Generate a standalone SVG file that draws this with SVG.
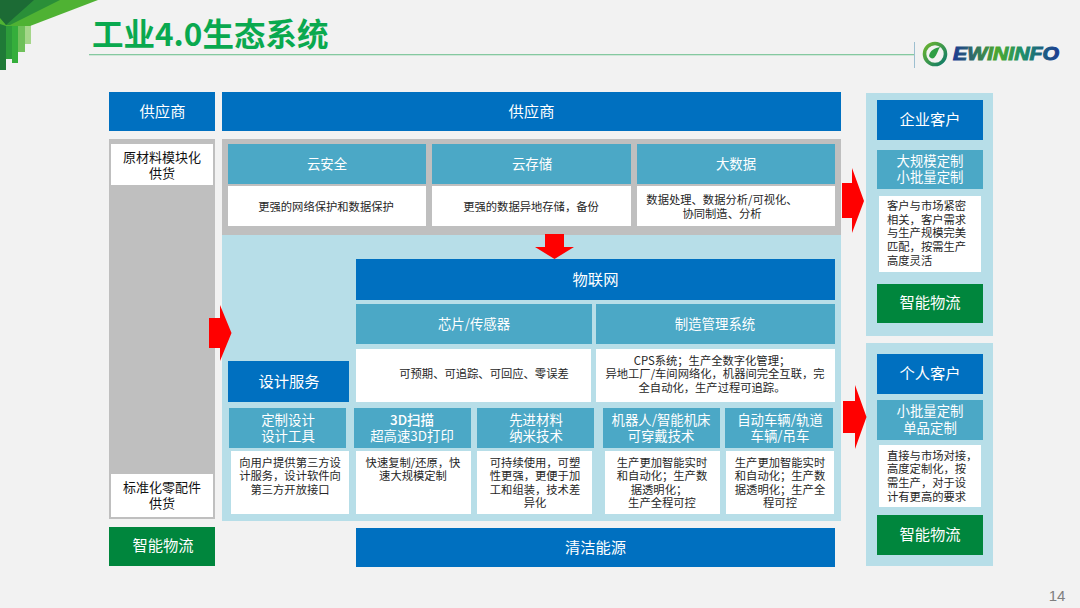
<svg xmlns="http://www.w3.org/2000/svg" width="1080" height="608" viewBox="0 0 1080 608">
<style>
text{font-family:"Noto Sans CJK SC","Noto Sans",sans-serif;text-anchor:middle}
.b{fill:#0070c0}.t{fill:#4ba8c6}.w{fill:#fff}.g{fill:#00863d}.gr{fill:#bfbfbf}.lb{fill:#b7dee8}.r{fill:#f00}
.h{fill:#fff;font-size:15.3px}.h2{fill:#fff;font-size:13.4px}.c{fill:#262626;font-size:11.3px}.d{fill:#111;font-size:13px}
</style>
<defs>
<linearGradient id="lg" x1="0" x2="1" y1="0" y2="0"><stop offset="0" stop-color="#1b3a93"/><stop offset=".42" stop-color="#4aa82f"/><stop offset=".65" stop-color="#1f8f6a"/><stop offset="1" stop-color="#1b3a93"/></linearGradient>
<linearGradient id="rg" x1="0" x2="1" y1="0" y2="1"><stop offset="0" stop-color="#6db52e"/><stop offset="1" stop-color="#0d7a6a"/></linearGradient>
</defs>
<rect width="1080" height="608" fill="#f2f2f2"/>
<g id="corner">
<polygon points="25,24 31,24 31,44 25,44" fill="#a5d68a"/>
<polygon points="18,24 25,24 25,52 18,52" fill="#6fc05a"/>
<polygon points="12,24 18,24 18,63 12,63" fill="#35ae3b"/>
<polygon points="6,24 12,24 12,59 6,59" fill="#2c9c3a"/>
<polygon points="0,20 6,24 6,70 0,70" fill="#1f7a37"/>
<polygon points="0,0 98,0 30,26 6,26 0,24" fill="#4fb233"/>
<polygon points="0,0 60,0 10,25 6,25" fill="#2a8f38"/>
<polygon points="0,0 34,0 6,25 0,18" fill="#1c6b35"/>
</g>
<g id="title">
<text x="92" y="46" style="text-anchor:start;font-size:31.5px;font-weight:700;fill:#0aa94f">工业4.0生态系统</text>
<rect x="89" y="54" width="826" height="1.3" fill="#85c9a0"/>
<rect x="914" y="42" width="1" height="26" fill="#9dbfd0"/>
</g>
<g id="logo">
<circle cx="935" cy="54" r="10.500" fill="none" stroke="url(#rg)" stroke-width="3.6"/>
<path d="M929 56c1-6 6-8 11-9-2 3-3 8-6 11-2 1-4 0-5-2z" fill="#2f9e44"/>
<text x="953" y="60" textLength="106" lengthAdjust="spacingAndGlyphs" style="text-anchor:start;font-family:'Liberation Sans',sans-serif;font-size:18.5px;font-weight:700;font-style:italic;fill:url(#lg);stroke:url(#lg);stroke-width:1">EWININFO</text>
</g>
<g id="panels">
<rect class="gr" x="109" y="139" width="106" height="380"/>
<rect class="gr" x="222" y="139" width="619" height="96"/>
<rect class="lb" x="222" y="235" width="619" height="286"/>
<rect class="lb" x="866" y="93" width="127" height="243"/>
<rect class="lb" x="866" y="343" width="127" height="223"/>
</g>
<g id="supplier-left"><rect class="b" x="109" y="92" width="106" height="39"/><text class="h" x="162.500" y="117">供应商</text></g>
<g id="supplier-top"><rect class="b" x="222" y="92" width="619" height="39"/><text class="h" x="531.500" y="117">供应商</text></g>
<g id="raw"><rect class="w" x="111" y="144" width="102" height="41"/><text class="d" x="162" y="162">原材料模块化</text><text class="d" x="162" y="178">供货</text></g>
<g id="std"><rect class="w" x="111" y="474" width="102" height="43"/><text class="d" x="162" y="492">标准化零配件</text><text class="d" x="162" y="508">供货</text></g>
<g id="logistics-left"><rect class="g" x="109" y="527" width="106" height="39"/><text class="h" x="163" y="551">智能物流</text></g>
<g id="security"><rect class="t" x="228" y="144" width="198" height="40"/><text class="h2" x="327" y="169">云安全</text><rect class="w" x="228" y="186" width="198" height="40"/><text class="c" x="326" y="211">更强的网络保护和数据保护</text></g>
<g id="storage"><rect class="t" x="432" y="144" width="199" height="40"/><text class="h2" x="532" y="169">云存储</text><rect class="w" x="432" y="186" width="199" height="40"/><text class="c" x="531" y="211">更强的数据异地存储，备份</text></g>
<g id="bigdata"><rect class="t" x="637" y="144" width="198" height="40"/><text class="h2" x="736" y="169">大数据</text><rect class="w" x="637" y="186" width="198" height="40"/><text class="c" x="722" y="204">数据处理、数据分析/可视化、</text><text class="c" x="722" y="218">协同制造、分析</text></g>
<g id="iot"><rect class="b" x="356" y="259" width="479" height="41"/><text class="h" x="595.500" y="285">物联网</text></g>
<g id="chip"><rect class="t" x="356" y="304" width="236" height="40"/><text class="h2" x="474" y="329">芯片/传感器</text><rect class="w" x="356" y="349" width="235" height="53"/><text class="c" x="484" y="378">可预期、可追踪、可回应、零误差</text></g>
<g id="mfg"><rect class="t" x="596" y="304" width="239" height="40"/><text class="h2" x="715" y="329">制造管理系统</text><rect class="w" x="596" y="349" width="239" height="53"/><text class="c" x="712" y="365">CPS系统；生产全数字化管理；</text><text class="c" x="715" y="378">异地工厂/车间网络化，机器间完全互联，完</text><text class="c" x="712" y="392">全自动化，生产过程可追踪。</text></g>
<g id="design"><rect class="b" x="228" y="361" width="121" height="41"/><text class="h" x="289" y="387">设计服务</text></g>
<g id="c1"><rect class="t" x="229" y="408" width="117" height="40"/><text class="h2" x="288" y="425">定制设计</text><text class="h2" x="288" y="441">设计工具</text><rect class="w" x="231" y="451" width="118" height="63"/><text class="c" x="290" y="467">向用户提供第三方设</text><text class="c" x="290" y="480">计服务，设计软件向</text><text class="c" x="290" y="494">第三方开放接口</text></g>
<g id="c2"><rect class="t" x="354" y="408" width="117" height="40"/><text class="h2" x="412" y="425" style="font-weight:500">3D扫描</text><text class="h2" x="412" y="441">超高速3D打印</text><rect class="w" x="356" y="451" width="115" height="63"/><text class="c" x="413" y="467">快速复制/还原，快</text><text class="c" x="413" y="480">速大规模定制</text></g>
<g id="c3"><rect class="t" x="477" y="408" width="117" height="40"/><text class="h2" x="536" y="425">先进材料</text><text class="h2" x="536" y="441">纳米技术</text><rect class="w" x="477" y="451" width="115" height="63"/><text class="c" x="535" y="467">可持续使用，可塑</text><text class="c" x="535" y="480">性更强，更便于加</text><text class="c" x="535" y="494">工和组装，技术差</text><text class="c" x="535" y="507">异化</text></g>
<g id="c4"><rect class="t" x="603" y="408" width="117" height="40"/><text class="h2" x="661" y="425">机器人/智能机床</text><text class="h2" x="661" y="441">可穿戴技术</text><rect class="w" x="605" y="451" width="115" height="63"/><text class="c" x="662" y="467">生产更加智能实时</text><text class="c" x="662" y="480">和自动化；生产数</text><text class="c" x="659" y="494">据透明化；</text><text class="c" x="662" y="507">生产全程可控</text></g>
<g id="c5"><rect class="t" x="725" y="408" width="108" height="40"/><text class="h2" x="780" y="425">自动车辆/轨道</text><text class="h2" x="780" y="441">车辆/吊车</text><rect class="w" x="726" y="451" width="108" height="63"/><text class="c" x="780" y="467">生产更加智能实时</text><text class="c" x="780" y="480">和自动化；生产数</text><text class="c" x="780" y="494">据透明化；生产全</text><text class="c" x="780" y="507">程可控</text></g>
<g id="energy"><rect class="b" x="356" y="528" width="479" height="39"/><text class="h" x="595.500" y="553">清洁能源</text></g>
<g id="enterprise">
<rect class="b" x="877" y="100" width="106" height="40"/><text class="h" x="930" y="125">企业客户</text>
<rect class="t" x="877" y="150" width="106" height="39"/><text class="h2" x="930" y="166">大规模定制</text><text class="h2" x="930" y="182">小批量定制</text>
<rect class="w" x="879" y="196" width="102" height="76"/>
<text class="c" x="887" y="210" style="text-anchor:start">客户与市场紧密</text><text class="c" x="887" y="224" style="text-anchor:start">相关，客户需求</text><text class="c" x="887" y="237" style="text-anchor:start">与生产规模完美</text><text class="c" x="887" y="251" style="text-anchor:start">匹配，按需生产</text><text class="c" x="887" y="265" style="text-anchor:start">高度灵活</text>
<rect class="g" x="877" y="284" width="106" height="39"/><text class="h" x="930" y="308">智能物流</text>
</g>
<g id="personal">
<rect class="b" x="877" y="354" width="106" height="40"/><text class="h" x="930" y="379">个人客户</text>
<rect class="t" x="877" y="400" width="106" height="40"/><text class="h2" x="930" y="416">小批量定制</text><text class="h2" x="930" y="433">单品定制</text>
<rect class="w" x="879" y="445" width="102" height="62"/>
<text class="c" x="887" y="460" style="text-anchor:start">直接与市场对接，</text><text class="c" x="887" y="473" style="text-anchor:start">高度定制化，按</text><text class="c" x="887" y="487" style="text-anchor:start">需生产，对于设</text><text class="c" x="887" y="501" style="text-anchor:start">计有更高的要求</text>
<rect class="g" x="877" y="515" width="106" height="40"/><text class="h" x="930" y="540">智能物流</text>
</g>
<g id="connectors">
<polygon class="r" points="545,234 564,234 564,247 574,247 554.500,259 535,247 545,247"/>
<polygon class="r" points="209,318 220,318 220,305 231.500,333 220,361 220,348 209,348"/>
<polygon class="r" points="842,183 852,183 852,168 864,201 852,233 852,218 842,218"/>
<polygon class="r" points="843,401 855,401 855,385 866.500,417 855,449 855,433 843,433"/>
</g>
<text x="1057" y="601" style="font-family:'Liberation Sans',sans-serif;font-size:15px;fill:#7f7f7f">14</text>
</svg>
